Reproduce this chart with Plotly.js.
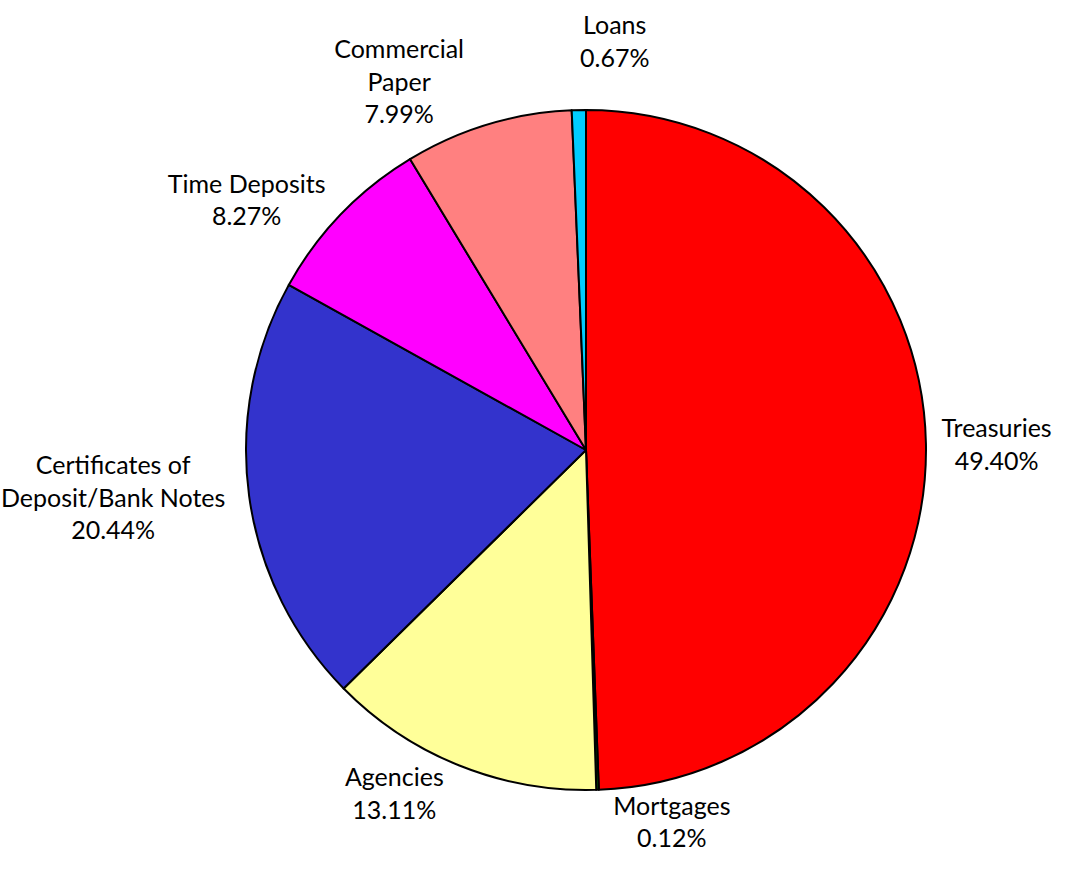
<!DOCTYPE html>
<html>
<head>
<meta charset="utf-8">
<script src="https://cdn.plot.ly/plotly-3.0.1.min.js"></script>
<style>html,body{margin:0;padding:0;background:#fff;}#chart{width:1073px;height:874px;}</style>
</head>
<body>
<div id="chart"></div>
<script>
const categories = ["Treasuries", "Mortgages", "Agencies", "Certificates of<br>Deposit/Bank Notes", "Time Deposits", "Commercial<br>Paper", "Loans"];
const shares = [49.40, 0.12, 13.11, 20.44, 8.27, 7.99, 0.67];
const colors = ["#FF0000", "#006600", "#FFFF99", "#3333CC", "#FF00FF", "#FF8080", "#00CCFF"];

const W = 1073, H = 874;
const cx = 586, cy = 450, r = 340;
const labelFont = {family: "Lato, 'Open Sans', sans-serif", size: 25, color: "#000000"};

// The last (tiny) slice gets its label as an annotation placed at its mid-angle,
// so that the automatic collision avoidance does not push it off the page.
const total = shares.reduce((a, b) => a + b, 0);
const lastIdx = shares.length - 1;
const before = shares.slice(0, lastIdx).reduce((a, b) => a + b, 0);
const midFrac = (before + shares[lastIdx] / 2) / total;
const ang = midFrac * 2 * Math.PI;           // clockwise from 12 o'clock
const dist = r + 36;
const ax = cx + dist * Math.sin(ang);
const ay = cy - dist * Math.cos(ang);

const positions = shares.map((_, i) => i === lastIdx ? "none" : "outside");

Plotly.newPlot("chart", [{
  type: "pie",
  labels: categories,
  values: shares,
  sort: false,
  direction: "clockwise",
  rotation: 0,
  marker: {colors: colors, line: {color: "#000000", width: 2}},
  texttemplate: "%{label}<br>%{value:.2f}%",
  textposition: positions,
  textfont: labelFont,
  automargin: false,
  showlegend: false,
  hoverinfo: "label+value",
  domain: {x: [(cx - r) / W, (cx + r) / W], y: [(H - cy - r) / H, (H - cy + r) / H]}
}], {
  width: W, height: H,
  margin: {l: 0, r: 0, t: 0, b: 0},
  paper_bgcolor: "#ffffff",
  showlegend: false,
  annotations: [{
    xref: "paper", yref: "paper",
    x: ax / W, y: 1 - ay / H,
    xanchor: "left", yanchor: "bottom",
    showarrow: false,
    align: "center",
    text: categories[lastIdx] + "<br>" + shares[lastIdx].toFixed(2) + "%",
    font: labelFont
  }]
}, {displayModeBar: false, staticPlot: true});
</script>
</body>
</html>
